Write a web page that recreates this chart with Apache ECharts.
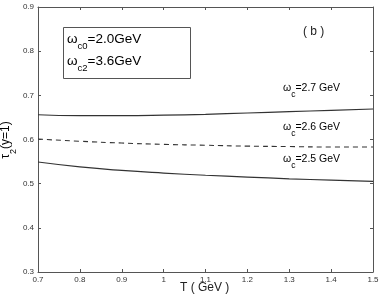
<!DOCTYPE html>
<html><head><meta charset="utf-8">
<script src="https://cdn.jsdelivr.net/npm/echarts@6/dist/echarts.min.js"></script>
<style>html,body{margin:0;padding:0;background:#fff}#c{width:382px;height:298px}</style>
</head><body><div id="c"></div>
<script>
const temps = [0.7, 0.8, 0.9, 1.0, 1.1, 1.2, 1.3, 1.4, 1.5];
const tau27 = [0.656, 0.654, 0.654, 0.655, 0.657, 0.660, 0.663, 0.666, 0.669];
const tau26 = [0.601, 0.596, 0.592, 0.589, 0.587, 0.585, 0.584, 0.583, 0.583];
const tau25 = [0.549, 0.538, 0.530, 0.524, 0.519, 0.515, 0.511, 0.508, 0.505];
const xTicks = ['0.7','0.8','0.9','1','1.1','1.2','1.3','1.4','1.5'];
const yTicks = ['0.3','0.4','0.5','0.6','0.7','0.8','0.9'];

const FONT = '"Liberation Sans", Arial, sans-serif';
const lineCol = '#333';
const axisCol = '#555';
const pair = a => temps.map((t, i) => [t, a[i]]);

const chart = echarts.init(document.getElementById('c'), null, {renderer: 'canvas'});
const baseAxis = {
  type: 'value',
  axisLine: {show: true, onZero: false, lineStyle: {color: axisCol, width: 1}},
  axisTick: {show: true, inside: true, length: 3, lineStyle: {color: axisCol}},
  splitLine: {show: false},
  axisLabel: {show: false}
};
function rich(size, subSize) {
  return {
    a: {fontSize: size, fontFamily: FONT, color: '#222', lineHeight: size + 4},
    s: {fontSize: subSize, fontFamily: FONT, color: '#222', lineHeight: size + 4, verticalAlign: 'bottom', padding: [0, 0, -Math.round(size * 0.3), 0]}
  };
}
chart.setOption({
  animation: false,
  grid: {left: 38, right: 9, top: 7, bottom: 26},
  xAxis: [
    Object.assign({}, baseAxis, {min: 0.7, max: 1.5, interval: 0.1, position: 'bottom',
      axisLabel: {show: true, fontSize: 8, color: '#333', fontFamily: FONT, margin: 4,
        formatter: v => { const i = Math.round((v - 0.7) * 10); return xTicks[i] || ''; }}}),
    Object.assign({}, baseAxis, {min: 0.7, max: 1.5, interval: 0.1, position: 'top'})
  ],
  yAxis: [
    Object.assign({}, baseAxis, {min: 0.3, max: 0.9, interval: 0.1, position: 'left',
      axisLabel: {show: true, fontSize: 8, color: '#333', fontFamily: FONT, margin: 4,
        formatter: v => { const i = Math.round((v - 0.3) * 10); return yTicks[i] || ''; }}}),
    Object.assign({}, baseAxis, {min: 0.3, max: 0.9, interval: 0.1, position: 'right'})
  ],
  series: [
    {type: 'line', data: pair(tau27), smooth: true, showSymbol: false, lineStyle: {color: lineCol, width: 1.2}},
    {type: 'line', data: pair(tau26), smooth: true, showSymbol: false, lineStyle: {color: lineCol, width: 1.1, type: [5, 4]}},
    {type: 'line', data: pair(tau25), smooth: true, showSymbol: false, lineStyle: {color: lineCol, width: 1.2}}
  ],
  graphic: [
    {type: 'rect', shape: {x: 63.5, y: 27.5, width: 127, height: 51}, style: {fill: '#fff', stroke: '#555', lineWidth: 1}},
    {type: 'text', left: 67, top: 32, style: {rich: rich(13.5, 9.5), text: '{a|ω}{s|c0}{a|=2.0GeV}'}},
    {type: 'text', left: 67, top: 54, style: {rich: rich(13.5, 9.5), text: '{a|ω}{s|c2}{a|=3.6GeV}'}},
    {type: 'text', left: 303, top: 26, style: {text: '( b )', fontSize: 12, fontFamily: FONT, fill: '#222'}},
    {type: 'text', left: 283, top: 83, style: {rich: rich(10.5, 8.5), text: '{a|ω}{s|c}{a|=2.7 GeV}'}},
    {type: 'text', left: 283, top: 122, style: {rich: rich(10.5, 8.5), text: '{a|ω}{s|c}{a|=2.6 GeV}'}},
    {type: 'text', left: 283, top: 154, style: {rich: rich(10.5, 8.5), text: '{a|ω}{s|c}{a|=2.5 GeV}'}},
    {type: 'text', left: 180, top: 282, style: {text: 'T ( GeV )', fontSize: 12, fontFamily: FONT, fill: '#222'}},
    {type: 'text', x: 6, y: 140, rotation: Math.PI / 2,
      style: {rich: rich(12, 9), text: '{a|τ}{s|2}{a|(y=1)}', align: 'center', verticalAlign: 'middle'}}
  ]
});
</script></body></html>
